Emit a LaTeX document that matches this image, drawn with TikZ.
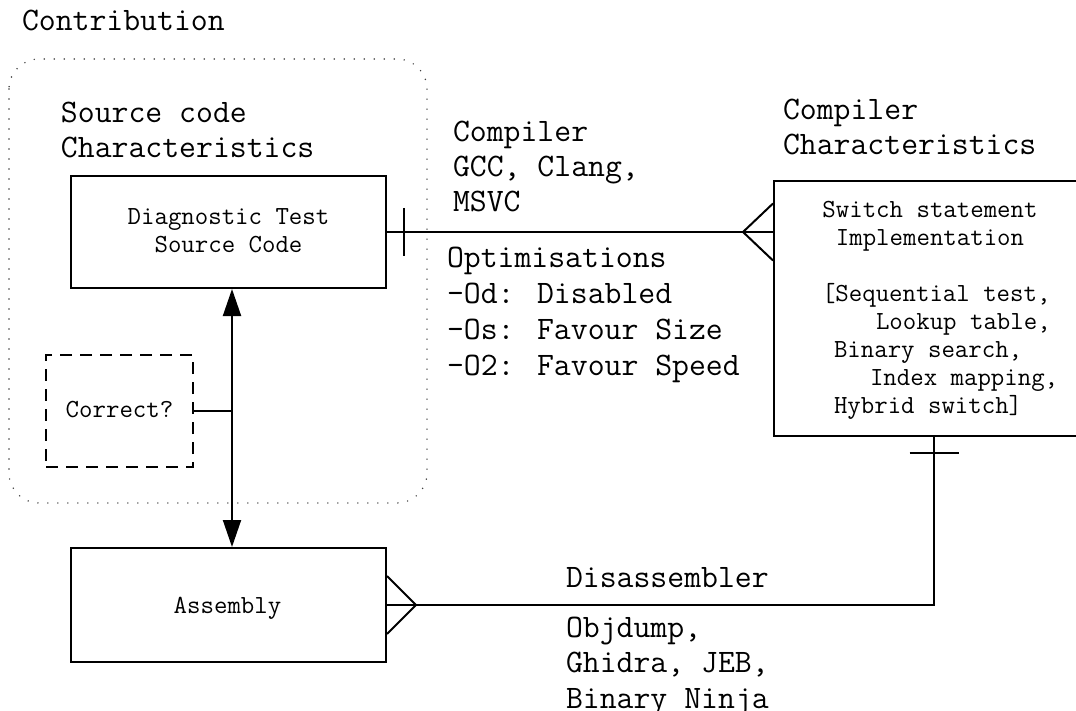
\documentclass[tikz,border=0pt]{standalone}
\usepackage{fontspec}
\setmainfont{Latin Modern Mono}
\usetikzlibrary{arrows.meta}
\begin{document}
\begin{tikzpicture}[x=0.5pt,y=-0.5pt, line width=1pt,
  big/.style={font=\fontsize{16.4}{17.7}\selectfont, inner sep=0pt, align=left, anchor=base west},
  small/.style={font=\fontsize{13.05}{14}\selectfont},
  box/.style={draw, line width=1pt, inner sep=0pt, small, align=center},
  tip/.style={{Triangle[length=13.5pt,width=9pt]}-{Triangle[length=13.5pt,width=9pt]}},
  dots/.style={line width=0.8pt, line cap=round, dash pattern=on 0pt off 5pt, rounded corners=15pt, black!75}
]
\useasboundingbox (0,0) rectangle (1076,711);
% contribution frame
\draw[dots] (9,59) rectangle (427,503);
% boxes
\node[box, minimum width=157.5pt, minimum height=56pt] (src) at (228.5,232) {};
\node[small, inner sep=0pt, align=center, anchor=base] (srct) at (228.5,253) {Diagnostic Test\\Source Code};
\node[box, dash pattern=on 6pt off 4pt, minimum width=73.5pt, minimum height=56pt] (corr) at (119.5,411) {};
\node[small, inner sep=0pt, anchor=base] (corrt) at (119.5,417) {Correct?};
\node[box, minimum width=157.5pt, minimum height=57pt] (asm) at (228.5,605) {};
\node[small, inner sep=0pt, anchor=base] (asmt) at (227.5,613) {Assembly};
\node[box, minimum width=160pt, minimum height=127.5pt] (sw) at (934,308.5) {};
\node[small, inner sep=0pt, align=center, anchor=base] (swt) at (930,246) {Switch statement\\Implementation};
\node[small, inner sep=0pt, align=left, anchor=base west] (swl) at (821,413)
  {[Sequential test,\\\hspace*{27pt}Lookup table,\\\hspace*{6pt}Binary search,\\\hspace*{24pt}Index mapping,\\\hspace*{6pt}Hybrid switch]};
% labels
\node[big] (contrib) at (21,31) {Contribution};
\node[big] (srcc) at (60,158) {Source code\\Characteristics};
\node[big] (comp) at (452,212) {Compiler\\GCC, Clang,\\MSVC};
\node[big, font=\fontsize{16.4}{18}\selectfont] (opt) at (446,375) {Optimisations\\-Od: Disabled\\-Os: Favour Size\\-O2: Favour Speed};
\node[big] (compc) at (782,155) {Compiler\\Characteristics};
\node[big] (dis) at (565,587) {Disassembler};
\node[big] (tools) at (565,708) {Objdump,\\Ghidra, JEB,\\Binary Ninja};
% source -> switch
\coordinate (swin) at (src.east -| sw.west);
\draw (src.east) -- (swin);
\draw ([xshift=8.5pt,yshift=12pt]src.east) -- ([xshift=8.5pt,yshift=-12pt]src.east);
\draw ([yshift=14.25pt]swin) -- ([xshift=-15pt]swin) -- ([yshift=-14.25pt]swin);
% assembly -> switch
\draw (asm.east) -| (sw.south);
\draw ([yshift=14.5pt]asm.east) -- ([xshift=14.5pt]asm.east) -- ([yshift=-14.5pt]asm.east);
\draw ([xshift=-12.25pt,yshift=-8pt]sw.south) -- ([xshift=12.25pt,yshift=-8pt]sw.south);
% source <-> assembly
\draw[tip] ([xshift=1.75pt]src.south) -- ([xshift=1.75pt]asm.north);
\coordinate (j) at ([xshift=1.75pt]src.south |- corr.east);
\draw (corr.east) -- (j) -- ([yshift=24pt]j);
\end{tikzpicture}
\end{document}
